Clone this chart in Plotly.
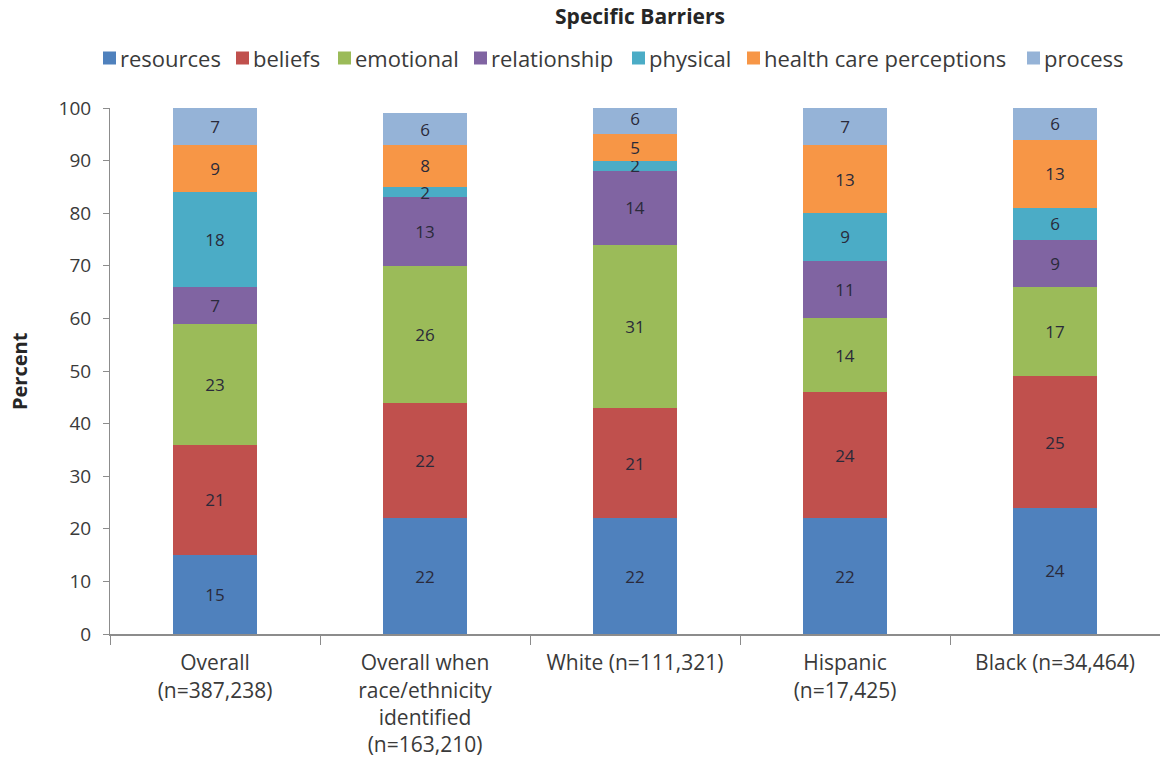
import plotly.graph_objects as go

# Share of each specific barrier type (percent) for every population group
categories = [
    "Overall<br>(n=387,238)",
    "Overall when<br>race/ethnicity<br>identified<br>(n=163,210)",
    "White (n=111,321)",
    "Hispanic<br>(n=17,425)",
    "Black (n=34,464)",
]
series_names = ["resources", "beliefs", "emotional", "relationship",
                "physical", "health care perceptions", "process"]
resources = [15, 22, 22, 22, 24]
beliefs = [21, 22, 21, 24, 25]
emotional = [23, 26, 31, 14, 17]
relationship = [7, 13, 14, 11, 9]
physical = [18, 2, 2, 9, 6]
health_care_perceptions = [9, 8, 5, 13, 13]
process = [7, 6, 6, 7, 6]
y_ticks = [0, 10, 20, 30, 40, 50, 60, 70, 80, 90, 100]

series_values = [resources, beliefs, emotional, relationship,
                 physical, health_care_perceptions, process]
colors = ["#4F81BD", "#C0504D", "#9BBB59", "#8064A2",
          "#4BACC6", "#F79646", "#95B3D7"]

FONT = "Open Sans, DejaVu Sans, sans-serif"
W, H = 1160, 781
L, R, T, B = 110, 0, 108, 147
PW, PH = W - L - R, H - T - B

fig = go.Figure()
for name, vals, col in zip(series_names, series_values, colors):
    fig.add_trace(go.Bar(
        x=categories, y=vals, name=name,
        marker=dict(color=col, line=dict(width=0)),
        text=[str(v) for v in vals],
        textposition="inside", insidetextanchor="middle",
        textangle=0, constraintext="none",
        textfont=dict(family=FONT, size=17, color="#2a2a3a"),
        showlegend=False, hoverinfo="x+y+name",
    ))

# Legend row drawn as coloured squares followed by labels
legend_symbol_x = [103, 236, 338, 474, 632, 747, 1027]
legend_y = 58
sq = 13
for name, col, sx in zip(series_names, colors, legend_symbol_x):
    fig.add_shape(type="rect", xref="paper", yref="paper",
                  x0=(sx - L) / PW, x1=(sx + sq - L) / PW,
                  y0=(H - B - (legend_y + sq / 2)) / PH,
                  y1=(H - B - (legend_y - sq / 2)) / PH,
                  fillcolor=col, line=dict(width=0))
    fig.add_annotation(text=name, xref="paper", yref="paper",
                       x=(sx + sq + 2 - L) / PW,
                       y=(H - B - legend_y) / PH,
                       xanchor="left", yanchor="middle", showarrow=False,
                       font=dict(family=FONT, size=22, color="#3a3a3a"))

# Vertical axis title
fig.add_annotation(text="<b>Percent</b>", xref="paper", yref="paper",
                   x=(19 - L) / PW, y=0.5, textangle=-90,
                   xanchor="center", yanchor="middle", showarrow=False,
                   font=dict(family=FONT, size=20, color="#262626"))

fig.update_layout(
    width=W, height=H,
    margin=dict(l=L, r=R, t=T, b=B, autoexpand=False),
    barmode="stack", bargap=0.6,
    plot_bgcolor="white", paper_bgcolor="white",
    title=dict(text="<b>Specific Barriers</b>", x=640 / W, xref="container",
               xanchor="center", y=1 - 17 / H, yref="container", yanchor="middle",
               font=dict(family=FONT, size=21, color="#262626")),
    xaxis=dict(
        showline=True, linecolor="#8c8c8c", linewidth=2,
        ticks="outside", tickson="boundaries", ticklen=9, tickcolor="#8c8c8c",
        tickwidth=1, tickfont=dict(family=FONT, size=21, color="#3a3a3a"),
        ticklabelstandoff=9, showgrid=False, zeroline=False,
        automargin=False,
    ),
    yaxis=dict(
        range=[0, 100], tickvals=y_ticks, ticktext=[str(v) for v in y_ticks],
        showline=True, linecolor="#8c8c8c", linewidth=1,
        ticks="outside", ticklen=6, tickcolor="#8c8c8c",
        tickfont=dict(family=FONT, size=19, color="#3a3a3a"),
        ticklabelstandoff=8, showgrid=False, zeroline=False, automargin=False,
    ),
)

fig.write_html("out.html")
